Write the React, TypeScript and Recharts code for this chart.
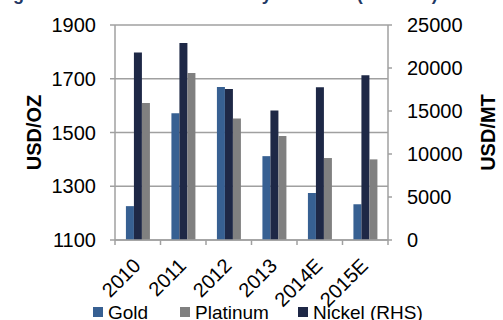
import React from "react";
import { BarChart, Bar, XAxis, YAxis, CartesianGrid } from "recharts";

const years = ["2010", "2011", "2012", "2013", "2014E", "2015E"];
const gold = [1226, 1572, 1669, 1412, 1275, 1233];
const platinum = [1610, 1721, 1552, 1487, 1405, 1400];
const nickel = [21810, 22894, 17548, 15050, 17750, 19150];
const leftTicks = [1100, 1300, 1500, 1700, 1900];
const rightTicks = [0, 5000, 10000, 15000, 20000, 25000];

const FONT = "'Liberation Sans', Arial, sans-serif";
const GRID = "#A0A0A0";
const GOLD = "#376092";
const PLAT = "#808080";
const NICKEL = "#1E2846";

const data = years.map((year, i) => ({
  year,
  gold: gold[i],
  platinum: platinum[i],
  nickel: nickel[i],
}));

// year label rotated, plus the small marks on the category edges
function YearTick(props: any) {
  const { x, y, payload, width, visibleTicksCount, index } = props;
  const half = width / visibleTicksCount / 2;
  const ax = x + 4;
  const ay = y + 27;
  return (
    <g>
      <line x1={x - half} x2={x - half} y1={y} y2={y + 5} stroke={GRID} strokeWidth={1.5} />
      {index === visibleTicksCount - 1 && (
        <line x1={x + half} x2={x + half} y1={y} y2={y + 5} stroke={GRID} strokeWidth={1.5} />
      )}
      <text
        x={ax}
        y={ay}
        transform={`rotate(-45, ${ax}, ${ay})`}
        textAnchor="end"
        fontSize={20}
        fontFamily={FONT}
        fill="#000"
      >
        {payload.value}
      </text>
    </g>
  );
}

function axisTitle(text: string, dx: number) {
  return ({ viewBox }: any) => {
    const cx = viewBox.x + dx;
    const cy = viewBox.y + viewBox.height / 2;
    return (
      <text
        x={cx}
        y={cy}
        transform={`rotate(-90, ${cx}, ${cy})`}
        textAnchor="middle"
        dominantBaseline="central"
        fontSize={20}
        fontWeight="bold"
        fontFamily={FONT}
        fill="#000"
      >
        {text}
      </text>
    );
  };
}

const legendItems = [
  { label: "Gold", color: GOLD, left: 93 },
  { label: "Platinum", color: PLAT, left: 180 },
  { label: "Nickel (RHS)", color: NICKEL, left: 298 },
];

export default function App() {
  const tickStyle = { fontSize: 20, fill: "#000", fontFamily: FONT };
  return (
    <div
      style={{
        position: "absolute",
        left: 0,
        top: 0,
        width: 503,
        height: 320,
        overflow: "hidden",
        fontFamily: FONT,
        background: "#fff",
      }}
    >
      <div
        style={{
          position: "absolute",
          left: -3,
          top: -16,
          fontSize: 18,
          fontWeight: "bold",
          color: "#1F3864",
          whiteSpace: "nowrap",
        }}
      >
        Fig. 5: Metal Prices Trend Yearly Forecast (USD/MT)
      </div>
      <BarChart
        width={503}
        height={320}
        data={data}
        margin={{ top: 25, right: 0, bottom: 0, left: 0 }}
        barGap={0}
        barCategoryGap="24%"
      >
        <CartesianGrid
          yAxisId="left"
          vertical={false}
          stroke={GRID}
          strokeWidth={1.5}
        />
        <XAxis
          dataKey="year"
          height={80}
          interval={0}
          tickSize={0}
          tickMargin={0}
          tickLine={false}
          axisLine={{ stroke: GRID, strokeWidth: 1.5 }}
          tick={YearTick}
        />
        <YAxis
          yAxisId="left"
          width={115}
          domain={[1100, 1900]}
          ticks={leftTicks}
          interval={0}
          tickSize={5}
          tickMargin={14}
          tick={tickStyle}
          tickLine={{ stroke: GRID, strokeWidth: 1.5 }}
          axisLine={{ stroke: GRID, strokeWidth: 1.5 }}
          label={{ content: axisTitle("USD/OZ", 34) }}
        />
        <YAxis
          yAxisId="right"
          orientation="right"
          width={115}
          domain={[0, 25000]}
          ticks={rightTicks}
          interval={0}
          tickSize={4}
          tickMargin={15}
          tick={tickStyle}
          tickLine={{ stroke: GRID, strokeWidth: 1.5 }}
          axisLine={{ stroke: GRID, strokeWidth: 1.5 }}
          label={{ content: axisTitle("USD/MT", 99.5) }}
        />
        <Bar dataKey="gold" yAxisId="left" fill={GOLD} isAnimationActive={false} />
        <Bar dataKey="nickel" yAxisId="right" fill={NICKEL} isAnimationActive={false} />
        <Bar dataKey="platinum" yAxisId="left" fill={PLAT} isAnimationActive={false} />
      </BarChart>
      {legendItems.map((item) => (
        <div
          key={item.label}
          style={{
            position: "absolute",
            left: item.left,
            top: 302,
            display: "flex",
            alignItems: "flex-start",
            fontSize: 19,
            color: "#000",
            whiteSpace: "nowrap",
          }}
        >
          <span
            style={{
              display: "inline-block",
              width: 10,
              height: 10,
              background: item.color,
              marginTop: 5,
              marginRight: 5,
            }}
          />
          {item.label}
        </div>
      ))}
    </div>
  );
}
